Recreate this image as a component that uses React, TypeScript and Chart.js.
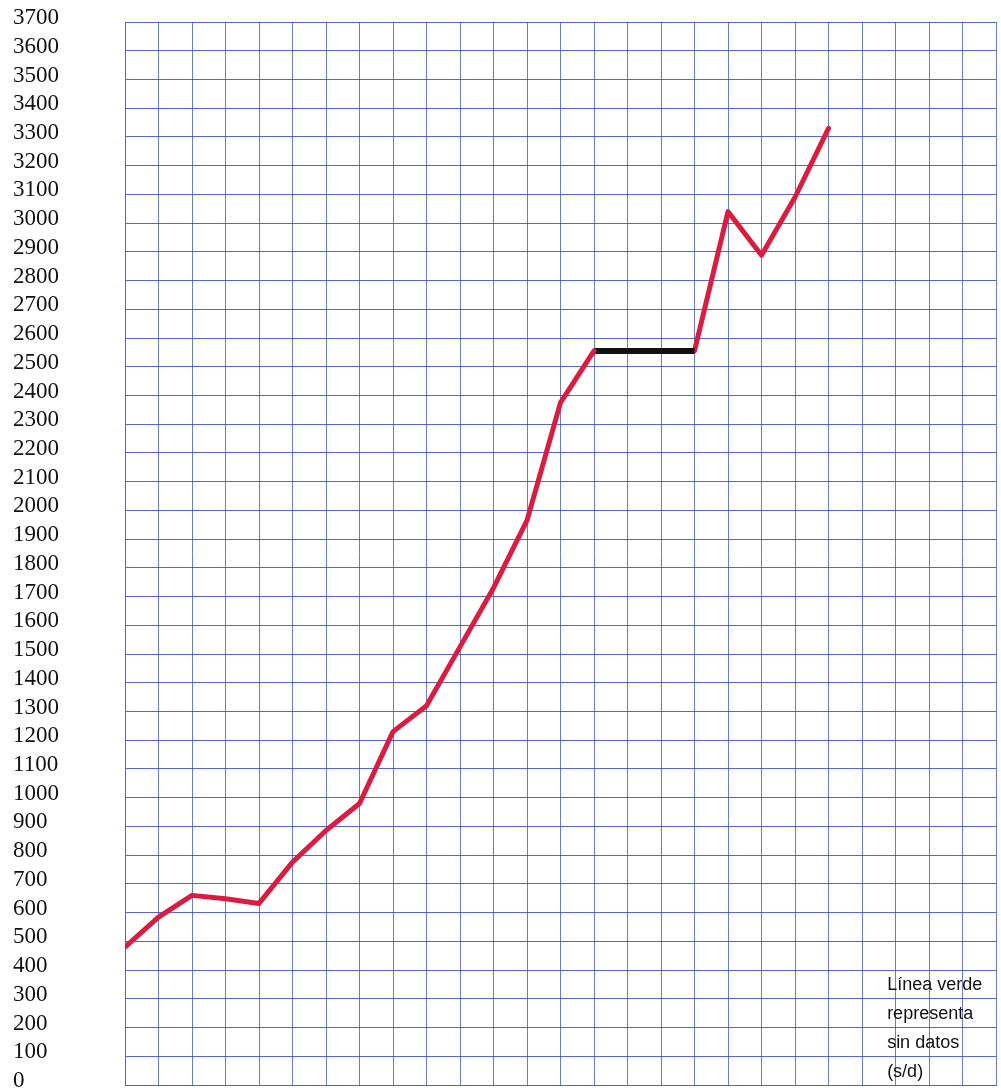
import React, { useEffect, useRef } from "react";
import { Chart, registerables } from "chart.js";

Chart.register(...registerables);

// ---- data ----
const redIndexBefore = [0, 1, 2, 3, 4, 5, 6, 7, 8, 9, 10, 11, 12, 13, 14];
const redValuesBefore = [480, 584, 660, 648, 632, 776, 886, 980, 1230, 1320, 1525, 1730, 1965, 2375, 2555];
const noDataIndex = [14, 17];
const noDataValues = [2555, 2555];
const redIndexAfter = [17, 18, 19, 20, 21];
const redValuesAfter = [2555, 3040, 2888, 3090, 3330];

const Y_MIN = 0;
const Y_MAX = 3700;
const Y_STEP = 100;
const X_MIN = 0;
const X_MAX = 26;

const noteLines = ["Línea verde", "representa", "sin datos", "(s/d)"];

const toPoints = (xs: number[], ys: number[]) => xs.map((x, i) => ({ x, y: ys[i] }));

const notePlugin = {
  id: "notePlugin",
  afterDraw(chart: any) {
    const { ctx, scales } = chart;
    const xs = scales.x;
    const ys = scales.y;
    ctx.save();
    ctx.fillStyle = "#111111";
    ctx.font = '18px "Liberation Sans", Arial, sans-serif';
    ctx.textAlign = "left";
    ctx.textBaseline = "middle";
    const left = xs.getPixelForValue(22.75);
    const rows = [350, 250, 150, 50];
    noteLines.forEach((t, i) => {
      ctx.fillText(t, left, ys.getPixelForValue(rows[i]) + 1);
    });
    ctx.restore();
  },
};

export default function App() {
  const ref = useRef<HTMLCanvasElement | null>(null);
  useEffect(() => {
    if (!ref.current) return;
    const chart = new Chart(ref.current, {
      type: "line",
      data: {
        datasets: [
          {
            data: toPoints(redIndexBefore, redValuesBefore),
            borderColor: "#d91c40",
            borderWidth: 5,
            pointRadius: 0,
            tension: 0,
            borderJoinStyle: "round",
            borderCapStyle: "round",
          },
          {
            data: toPoints(noDataIndex, noDataValues),
            borderColor: "#111111",
            borderWidth: 6,
            pointRadius: 0,
            tension: 0,
          },
          {
            data: toPoints(redIndexAfter, redValuesAfter),
            borderColor: "#d91c40",
            borderWidth: 5,
            pointRadius: 0,
            tension: 0,
            borderJoinStyle: "round",
            borderCapStyle: "round",
          },
        ],
      },
      options: {
        animation: false,
        responsive: false,
        devicePixelRatio: 1,
        layout: { padding: { left: 13, right: 5, top: 22, bottom: 6 } },
        plugins: { legend: { display: false }, tooltip: { enabled: false } },
        scales: {
          x: {
            type: "linear",
            min: X_MIN,
            max: X_MAX,
            ticks: { display: false, stepSize: 1 },
            grid: { color: "rgba(80,100,200,0.85)", lineWidth: 1, drawTicks: false },
            border: { display: true, color: "rgba(80,100,200,0.9)" },
            afterFit: (s: any) => {
              s.height = 0;
              s.paddingLeft = 0;
              s.paddingRight = 0;
            },
          },
          y: {
            min: Y_MIN,
            max: Y_MAX,
            ticks: {
              stepSize: Y_STEP,
              autoSkip: false,
              crossAlign: "far",
              padding: 0,
              labelOffset: -4,
              color: "#111111",
              font: { family: '"Liberation Serif", "Times New Roman", serif', size: 23 },
              callback: (v: any) => String(v),
            },
            grid: { color: "rgba(55,75,200,0.85)", lineWidth: 1, drawTicks: false },
            border: { display: true, color: "rgba(80,100,200,0.9)" },
            afterFit: (s: any) => {
              s.width = 112;
              s.paddingTop = 0;
              s.paddingBottom = 0;
            },
          },
        },
      } as any,
      plugins: [notePlugin],
    });
    return () => chart.destroy();
  }, []);
  return (
    <div style={{ position: "absolute", left: 0, top: 0, width: 1001, height: 1091, background: "#fff" }}>
      <canvas ref={ref} width={1001} height={1091} />
    </div>
  );
}
